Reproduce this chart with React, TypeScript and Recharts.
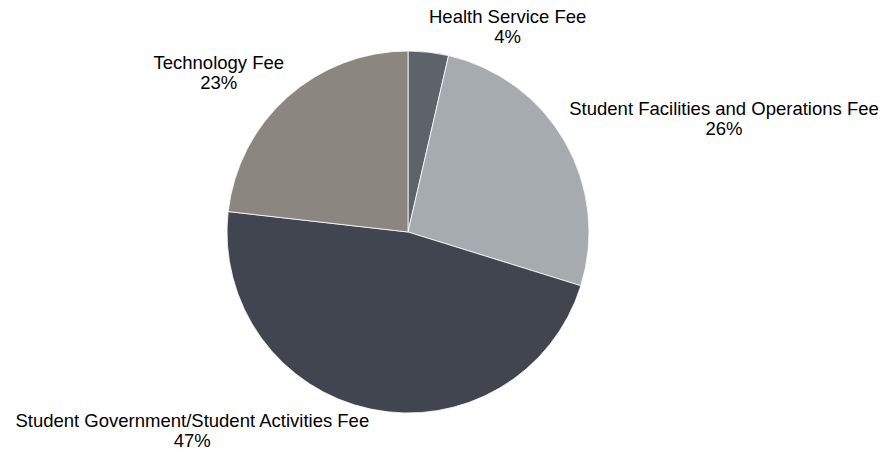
import React from "react";
import { PieChart, Pie, Cell } from "recharts";

const categories = [
  "Health Service Fee",
  "Student Facilities and Operations Fee",
  "Student Government/Student Activities Fee",
  "Technology Fee",
];
const values = [3.6, 26.2, 47.0, 23.2];
const colors = ["#5e6269", "#a5abae", "#414550", "#8c8681"];

const data = categories.map((name, i) => ({ name, value: values[i] }));

const FONT_SIZE = 18.5;
const FONT_FAMILY = "'Liberation Sans', Arial, sans-serif";
const LINE_GAP = 20;
const RAD = Math.PI / 180;

let ctx: CanvasRenderingContext2D | null = null;
function measure(text: string): number {
  if (!ctx) {
    const c = document.createElement("canvas");
    ctx = c.getContext("2d");
  }
  if (!ctx) return text.length * FONT_SIZE * 0.5;
  ctx.font = `${FONT_SIZE}px ${FONT_FAMILY}`;
  return ctx.measureText(text).width;
}

const renderLabel = (props: any) => {
  const { cx, cy, midAngle, outerRadius, percent, name } = props;
  const r = outerRadius + 5;
  const x = cx + r * Math.cos(-midAngle * RAD);
  const y = cy + r * Math.sin(-midAngle * RAD);
  const pct = `${Math.round(percent * 100)}%`;
  const w = Math.max(measure(name), measure(pct));
  const centerX = x >= cx ? x + w / 2 : x - w / 2;
  let base1: number;
  let gap = LINE_GAP;
  if (y < cy) {
    base1 = y - 4 - LINE_GAP;
  } else {
    gap = 19.5;
    base1 = y + 13;
  }
  const base2 = base1 + gap;
  return (
    <g>
      <text
        x={centerX}
        y={base1}
        textAnchor="middle"
        fontSize={FONT_SIZE}
        fontFamily={FONT_FAMILY}
        fill="#000"
      >
        {name}
      </text>
      <text
        x={centerX}
        y={base2}
        textAnchor="middle"
        fontSize={FONT_SIZE}
        fontFamily={FONT_FAMILY}
        fill="#000"
      >
        {pct}
      </text>
    </g>
  );
};

export default function App() {
  return (
    <div style={{ position: "absolute", left: 0, top: 0, width: 880, height: 451, background: "#fff" }}>
      <PieChart width={880} height={451} margin={{ top: 0, right: 0, bottom: 0, left: 0 }}>
        <Pie
          data={data}
          dataKey="value"
          nameKey="name"
          cx={408}
          cy={232}
          outerRadius={181}
          startAngle={90}
          endAngle={-270}
          stroke="#ffffff"
          strokeWidth={0.8}
          label={renderLabel}
          labelLine={false}
          isAnimationActive={false}
        >
          {data.map((d, i) => (
            <Cell key={d.name} fill={colors[i]} />
          ))}
        </Pie>
      </PieChart>
    </div>
  );
}
